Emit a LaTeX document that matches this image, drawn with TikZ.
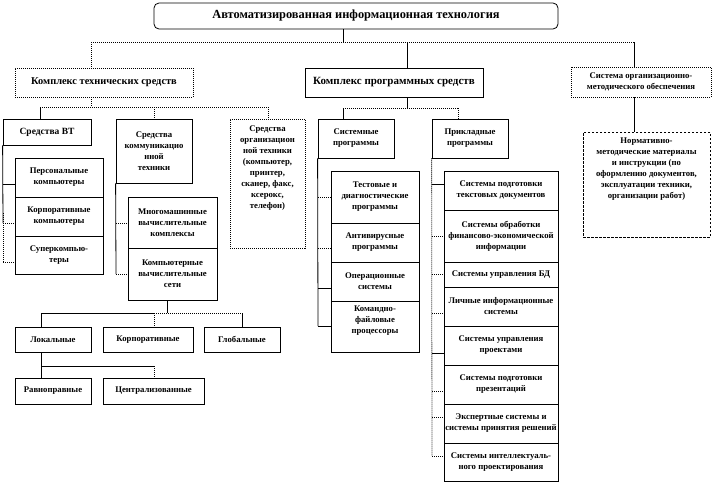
\documentclass[tikz,border=0pt]{standalone}
\usepackage{fontspec}
\setmainfont{Liberation Serif}
\tikzset{
  bxs/.style={draw=black,line width=0.8pt,inner sep=0pt,fill=white,font=\fontsize{8.7}{11}\selectfont\bfseries},
  dots/.style={dash pattern=on 1pt off 1pt},
  dsh/.style={dash pattern=on 2.5pt off 1.5pt},
  ln/.style={line width=0.8pt},
  dl/.style={line width=0.8pt,dash pattern=on 1pt off 1pt}
}
\newcommand\bx[8]{%
  \pgfmathsetmacro\bxw{#5-#3}\pgfmathsetmacro\bxh{#6-#4}%
  \node[bxs,#2,minimum width=\bxw pt,minimum height=\bxh pt] (#1) at ({(#3+#5)/2},{(#4+#6)/2})
    {\makebox[\dimexpr\bxw pt-4pt\relax]{\parbox[c][\dimexpr\bxh pt-4pt\relax][#7]{\dimexpr\bxw pt+30pt\relax}{\centering #8}}};}
\begin{document}
\begin{tikzpicture}[x=1pt,y=-1pt]
\useasboundingbox (0,0) rectangle (713,485);
% boxes
\bx{title}{rounded corners=5pt,font=\fontsize{12.4}{14}\selectfont\bfseries}{154}{3}{558}{29}{c}{Автоматизированная информационная технология}
\bx{kts}{dots,font=\fontsize{10.4}{12}\selectfont\bfseries}{15}{68}{193}{97}{c}{Комплекс технических средств}
\bx{kps}{font=\fontsize{11}{12}\selectfont\bfseries}{305}{68}{483}{97}{c}{Комплекс программных средств}
\bx{somo}{dots}{571}{67}{711}{97}{c}{Система организационно-\\методического обеспечения}
\bx{norm}{dsh}{583}{132}{710}{237}{t}{\vspace{4pt}Нормативно-\\методические материалы\\и инструкции (по\\оформлению документов,\\эксплуатации техники,\\организации работ)}
\bx{vt}{font=\fontsize{9.5}{11}\selectfont\bfseries}{3}{119}{91}{145}{c}{Средства ВТ}
\bx{pc}{}{15}{158}{103}{197}{c}{Персональные\\компьютеры}
\bx{corp}{}{15}{197}{103}{236}{c}{Корпоративные\\компьютеры}
\bx{super}{}{15}{236}{103}{274}{c}{Суперкомпью-\\теры}
\bx{komm}{}{116}{119}{192}{183}{c}{Средства\\коммуникацио\\нной\\техники}
\bx{mnog}{}{128}{197}{217}{248}{c}{Многомашинные\\вычислительные\\комплексы}
\bx{ks}{}{128}{248}{217}{300}{c}{Компьютерные\\вычислительные\\сети}
\bx{orgt}{dots}{230}{119}{305}{248}{t}{\vspace{5pt}Средства\\организацион\\ной техники\\(компьютер,\\принтер,\\сканер, факс,\\ксерокс,\\телефон)}
\bx{lok}{}{15}{327}{91}{352}{c}{Локальные}
\bx{kor}{}{103}{327}{193}{352}{c}{Корпоративные}
\bx{glob}{}{204}{327}{280}{352}{c}{Глобальные}
\bx{rav}{}{15}{378}{91}{404}{c}{Равноправные}
\bx{centr}{}{103}{378}{204}{404}{c}{Централизованные}
\bx{sysp}{}{318}{119}{394}{158}{c}{Системные\\программы}
\bx{app}{}{432}{119}{508}{158}{c}{Прикладные\\программы}
\bx{test}{}{331}{171}{419}{223}{c}{Тестовые и\\диагностические\\программы}
\bx{anti}{}{331}{223}{419}{262}{c}{Антивирусные\\программы}
\bx{os}{}{331}{262}{419}{301}{c}{Операционные\\системы}
\bx{cmd}{}{331}{301}{419}{352}{t}{\vspace{3pt}Командно-\\файловые\\процессоры}
\bx{a1}{}{444}{171}{558}{210}{c}{Системы подготовки\\текстовых документов}
\bx{a2}{}{444}{210}{558}{262}{c}{Системы обработки\\финансово-экономической\\информации}
\bx{a3}{}{444}{262}{558}{287}{c}{Системы управления БД}
\bx{a4}{}{444}{287}{558}{326}{c}{Личные информационные\\системы}
\bx{a5}{}{444}{326}{558}{365}{c}{Системы управления\\проектами}
\bx{a6}{}{444}{365}{558}{404}{c}{Системы подготовки\\презентаций}
\bx{a7}{}{444}{404}{558}{443}{c}{Экспертные системы и\\системы принятия решений}
\bx{a8}{}{444}{443}{558}{481}{c}{Системы интеллектуаль-\\ного проектирования}
% junction coordinates
\coordinate (t0) at (343,42);
\coordinate (b1) at (91,42);
\coordinate (b2) at (407,42);
\coordinate (b3) at (634,42);
\draw[ln] (title.south -| t0) -- (t0);
\draw[dl] (b1) -- (b3);
\draw[dl] (b1) -- (b1 |- kts.north);
\draw[ln] (b2) -- (b2 |- kps.north);
\draw[ln] (b3) -- (b3 |- somo.north);
% under KTS
\coordinate (k0) at (91,107);
\coordinate (k1) at (40,107);
\coordinate (k2) at (154,107);
\coordinate (k3) at (268,107);
\draw[dl] (k0 |- kts.south) -- (k0);
\draw[dl] (k1) -- (k3);
\draw[ln] (k1) -- (k1 |- vt.north);
\draw[dl] (k2) -- (k2 |- komm.north);
\draw[dl] (k3) -- (k3 |- orgt.north);
% VT spine
\coordinate (v0) at (3,262);
\draw[ln] (vt.south west) -- (3,223);
\draw[dl] (3,213) -- (v0);
\draw[ln] (3,184) -- (3,184 -| pc.west);
\draw[dl] (3,223) -- (3,223 -| corp.west);
\draw[dl] (v0) -- (v0 -| super.west);
% komm spine
\draw[ln] (komm.south west) -- (116,274);
\draw[dl] (116,223) -- (116,223 -| mnog.west);
\draw[dl] (116,274) -- (116,274 -| ks.west);
% networks
\coordinate (n0) at (167,313);
\coordinate (n1) at (41,313);
\coordinate (n2) at (154,313);
\coordinate (n3) at (242,313);
\draw[ln] (n0 |- ks.south) -- (n0);
\draw[ln] (n1) -- (n2);
\draw[dl] (n2) -- (n3);
\draw[ln] (n1) -- (n1 |- lok.north);
\draw[dl] (n2) -- (n2 |- kor.north);
\draw[ln] (n3) -- (n3 |- glob.north);
\coordinate (m1) at (41,366);
\coordinate (m2) at (154,366);
\draw[ln] (m1 |- lok.south) -- (m1) -- (m2);
\draw[ln] (m1) -- (m1 |- rav.north);
\draw[dl] (m2) -- (m2 |- centr.north);
% under KPS
\coordinate (p0) at (407,108);
\coordinate (p1) at (343,108);
\coordinate (p2) at (458,108);
\draw[ln] (p0 |- kps.south) -- (p0);
\draw[dl] (p1) -- (p2);
\draw[ln] (p1) -- (p1 |- sysp.north);
\draw[dl] (p2) -- (p2 |- app.north);
% sys spine
\draw[ln] (sysp.south west) -- (318,326);
\draw[dl] (318,197) -- (318,197 -| test.west);
\draw[dl] (318,248) -- (318,248 -| anti.west);
\draw[ln] (318,288) -- (318,288 -| os.west);
\draw[ln] (318,326) -- (318,326 -| cmd.west);
% app spine
\draw[dl] (app.south west) -- (432,456);
\draw[ln] (432,184) -- (432,184 -| a1.west);
\draw[dl] (432,236) -- (432,236 -| a2.west);
\draw[dl] (432,274) -- (432,274 -| a3.west);
\draw[dl] (432,313) -- (432,313 -| a4.west);
\draw[ln] (432,353) -- (432,353 -| a5.west);
\draw[dl] (432,391) -- (432,391 -| a6.west);
\draw[dl] (432,417) -- (432,417 -| a7.west);
\draw[dl] (432,456) -- (432,456 -| a8.west);
% somo to norm
\draw[ln] (somo.south -| b3) -- (b3 |- norm.north);
\end{tikzpicture}
\end{document}
